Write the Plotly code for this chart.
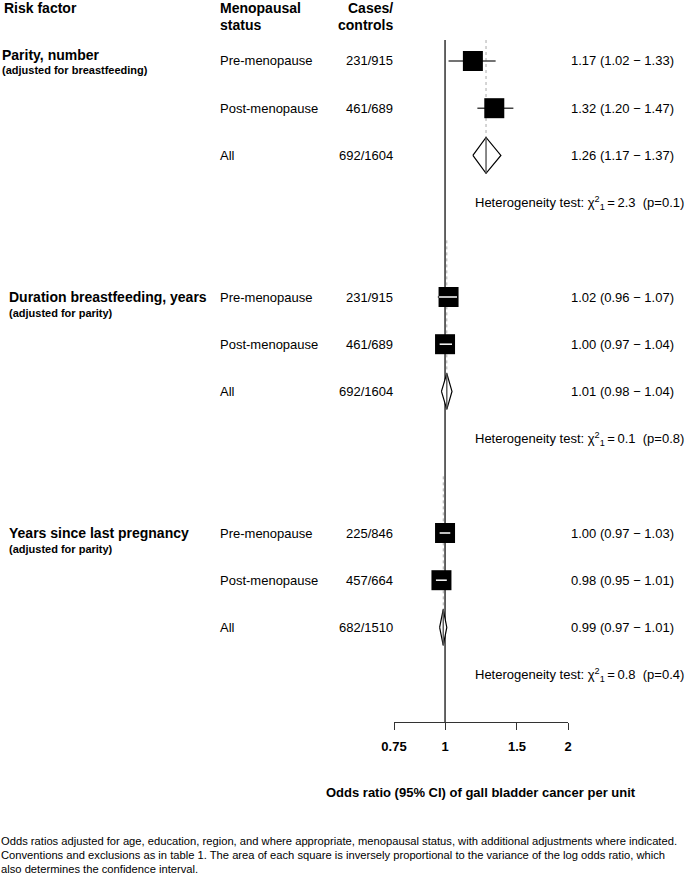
import math
import plotly.graph_objects as go

# ---------------- data ----------------
groups = ["Parity, number", "Duration breastfeeding, years", "Years since last pregnancy"]
adjustments = ["(adjusted for breastfeeding)", "(adjusted for parity)", "(adjusted for parity)"]
subgroups = ["Pre-menopause", "Post-menopause", "All"]
cases_controls = [
    ["231/915", "461/689", "692/1604"],
    ["231/915", "461/689", "692/1604"],
    ["225/846", "457/664", "682/1510"],
]
or_est = [[1.17, 1.32, 1.26], [1.02, 1.00, 1.01], [1.00, 0.98, 0.99]]
or_lo = [[1.02, 1.20, 1.17], [0.96, 0.97, 0.98], [0.97, 0.95, 0.97]]
or_hi = [[1.33, 1.47, 1.37], [1.07, 1.04, 1.04], [1.03, 1.01, 1.01]]
het_chi2 = ["2.3", "0.1", "0.8"]
het_p = ["0.1", "0.8", "0.4"]
tick_vals = [0.75, 1, 1.5, 2]
tick_text = ["0.75", "1", "1.5", "2"]
x_title = "Odds ratio (95% CI) of gall bladder cancer per unit"
footnote = [
    "Odds ratios adjusted for age, education, region, and where appropriate, menopausal status, with additional adjustments where indicated.",
    "Conventions and exclusions as in table 1. The area of each square is inversely proportional to the variance of the log odds ratio, which",
    "also determines the confidence interval.",
]

# ---------------- layout constants ----------------
W, H = 700, 874
FONT = "Liberation Sans, Arial, Helvetica, sans-serif"
AX_L, AX_R = 394, 568          # pixel extent of the x axis (0.75 .. 2)
PLOT_TOP, PLOT_BOT = 40, 722   # pixel extent of the forest area
ROW0_PX, ROW_PX = 61, 47.2     # pixel of first row, pixels per row
GROUP_STEP = 5
BOX = 20                        # square side in px
DIAM_H = 0.38                   # diamond half-height in rows

px_per_dec = (AX_R - AX_L) / (math.log10(2) - math.log10(0.75))
y_top = (PLOT_TOP - ROW0_PX) / ROW_PX
y_bot = (PLOT_BOT - ROW0_PX) / ROW_PX

fig = go.Figure()

def line(xs, ys, color, width, dash="solid"):
    fig.add_trace(go.Scatter(x=xs, y=ys, mode="lines", hoverinfo="skip",
                             line=dict(color=color, width=width, dash=dash),
                             showlegend=False))

# vertical line at OR = 1
line([1, 1], [y_top, y_bot], "#111", 1.3)

box_hw = (BOX / 2) / px_per_dec  # box half-width in log10 units

for g in range(len(groups)):
    base = g * GROUP_STEP
    est_all = or_est[g][2]
    start = y_top if g == 0 else base - 1.2
    line([est_all, est_all], [start, base + 2 - DIAM_H], "#aaa", 1, "dot")
    for i in range(2):
        r = base + i
        e, lo, hi = or_est[g][i], or_lo[g][i], or_hi[g][i]
        line([lo, hi], [r, r], "#444", 1.4)
        fig.add_trace(go.Scatter(x=[e], y=[r], mode="markers", hoverinfo="skip",
                                 marker=dict(symbol="square", size=BOX, color="black",
                                             line=dict(width=0)),
                                 showlegend=False))
        bl = e / 10 ** box_hw
        br = e * 10 ** box_hw
        tol = 10 ** (2 / px_per_dec)
        if lo >= bl / tol and hi <= br * tol:
            line([max(lo, bl * 1.003), min(hi, br / 1.003)], [r, r], "white", 1.5)
    r = base + 2
    e, lo, hi = or_est[g][2], or_lo[g][2], or_hi[g][2]
    fig.add_trace(go.Scatter(x=[lo, e, hi, e, lo], y=[r, r - DIAM_H, r, r + DIAM_H, r],
                             mode="lines", fill="toself", fillcolor="white",
                             line=dict(color="black", width=1.2), hoverinfo="skip",
                             showlegend=False))
    line([e, e], [r - DIAM_H, r + DIAM_H], "#555", 1.4)

annotations = []

def ann_px(text, x, y, size=13, bold=False, xanchor="left", family=FONT):
    annotations.append(dict(
        text=f"<b>{text}</b>" if bold else text, xref="paper", yref="paper",
        x=x / W, y=1 - y / H, xanchor=xanchor, yanchor="middle", showarrow=False,
        borderpad=0, borderwidth=0,
        font=dict(family=family, size=size, color="black")))

def ann_row(text, x, row, size=13, bold=False, xanchor="left"):
    annotations.append(dict(
        text=f"<b>{text}</b>" if bold else text, xref="paper", yref="y",
        x=x / W, y=row, xanchor=xanchor, yanchor="middle", showarrow=False,
        borderpad=0, borderwidth=0,
        font=dict(family=FONT, size=size, color="black")))

ann_px("Risk factor", 4, 8, 14, True)
ann_px("Menopausal", 220, 8, 14, True)
ann_px("status", 220, 25, 14, True)
ann_px("Cases/", 393, 8, 14, True, "right")
ann_px("controls", 393, 25, 14, True, "right")

label_x = [1.5, 9, 9]
label_dy = [(-0.13, 0.2), (0.0, 0.33), (0.0, 0.33)]
for g in range(len(groups)):
    base = g * GROUP_STEP
    ann_row(groups[g], label_x[g], base + label_dy[g][0], 14, True)
    ann_row(adjustments[g], label_x[g], base + label_dy[g][1], 11, True)
    for i in range(3):
        r = base + i
        ann_row(subgroups[i], 220, r, 13)
        ann_row(cases_controls[g][i], 393, r, 13, xanchor="right")
        ann_row(f"{or_est[g][i]:.2f} ({or_lo[g][i]:.2f} \u2212 {or_hi[g][i]:.2f})", 674, r, 13,
                xanchor="right")
    ann_row(f"Heterogeneity test: \u03c7<sup>2</sup><sub>1</sub>\u2009=\u2009{het_chi2[g]}\u00a0\u00a0(p={het_p[g]})",
            684, base + 3.0, 13, xanchor="right")

ann_px(x_title, 481, 792, 13, True, "center")
for k, t in enumerate(footnote):
    ann_px(t, 1, 841 + 14 * k, 11.2, False)

fig.update_layout(
    width=W, height=H, margin=dict(l=0, r=0, t=0, b=0, pad=0, autoexpand=False),
    paper_bgcolor="white", plot_bgcolor="white",
    annotations=annotations,
    xaxis=dict(type="log", domain=[AX_L / W, AX_R / W],
               range=[math.log10(0.75), math.log10(2)],
               showline=True, linecolor="#333", linewidth=1.2,
               ticks="outside", ticklen=7, tickcolor="#333", tickwidth=1.2,
               tickvals=tick_vals, ticktext=tick_text, automargin=False,
               ticklabelstandoff=5,
               tickfont=dict(family=FONT, size=13, color="black", weight="bold"),
               showgrid=False, zeroline=False, fixedrange=True),
    yaxis=dict(domain=[1 - PLOT_BOT / H, 1 - PLOT_TOP / H], range=[y_bot, y_top],
               visible=False, showgrid=False, zeroline=False, fixedrange=True,
               automargin=False),
    showlegend=False,
)

fig.write_html(
    "out.html",
    config={"displayModeBar": False},
    post_script="document.body.style.margin='0';document.documentElement.style.overflow='hidden';",
)
